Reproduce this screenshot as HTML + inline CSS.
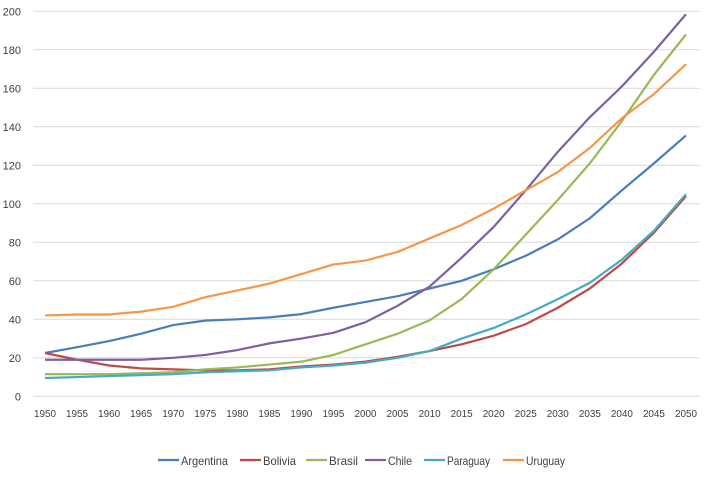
<!DOCTYPE html>
<html><head><meta charset="utf-8"><style>
body{margin:0;background:#fff;font-family:"Liberation Sans",sans-serif}
svg text{font-family:"Liberation Sans",sans-serif;fill:#404040}
</style></head><body>
<svg id="chart" width="709" height="472"></svg>
<script>
const years=[1950,1955,1960,1965,1970,1975,1980,1985,1990,1995,2000,2005,2010,2015,2020,2025,2030,2035,2040,2045,2050];
const yTicks=[0,20,40,60,80,100,120,140,160,180,200];
const argentina=[22.5,25.5,28.7,32.5,37,39.3,40,41,42.7,46,49,52,56,60,66,73,81.5,92.5,107,121,135.5];
const bolivia=[22.5,19,16,14.5,14,13.5,13.5,14,15.5,16.5,18,20.5,23.5,27,31.5,37.5,46,56,69,85,104];
const brasil=[11.5,11.5,11.5,12,12.5,14,15,16.5,18,21.5,27,32.5,39.5,50.5,66,84,102,121,143,167,188];
const chile=[19,19,19,19,20,21.5,24,27.5,30,33,38.5,47,57,72,88,107,127,145,161,179,198.5];
const paraguay=[9.5,10,10.5,11,11.5,12.5,13,13.5,15,16,17.5,20,23.5,30,35.5,42.5,50.5,59,71,86,105];
const uruguay=[42,42.5,42.5,44,46.5,51.5,55,58.5,63.5,68.5,70.5,75,82,89,97.5,107,116.5,129,144.5,157,172.5];
const seriesNames=["Argentina","Bolivia","Brasil","Chile","Paraguay","Uruguay"];
const seriesData=[argentina,bolivia,brasil,chile,paraguay,uruguay];
const colors=["#4a7ebb","#be4b48","#98b954","#7d60a0","#46aac5","#f79646"];
const NS="http://www.w3.org/2000/svg",svg=document.getElementById('chart');
const x0=45,x1=686,y0=396.3,y1=11.3;
const xs=i=>x0+(x1-x0)*i/(years.length-1);
const ys=v=>y0-(y0-y1)*v/200;
function mk(t,a){const e=document.createElementNS(NS,t);for(const k in a)e.setAttribute(k,a[k]);svg.appendChild(e);return e;}
yTicks.forEach(v=>{
 const l=mk('line',{x1:33,x2:700,y1:ys(v),y2:ys(v),stroke:'#d9d9d9','stroke-width':1});
 
 
 const t=mk('text',{x:21,y:ys(v)+4,'text-anchor':'end','font-size':11});
 t.textContent=v;
 
 
});
years.forEach((yr,i)=>{
 const t=mk('text',{x:xs(i),y:417,'text-anchor':'middle','font-size':10,textLength:22,lengthAdjust:'spacingAndGlyphs'});
 t.textContent=yr;
 
 
});
seriesData.forEach((d,s)=>{
 const p=mk('polyline',{points:d.map((v,i)=>xs(i)+','+ys(v)).join(' '),fill:'none',stroke:colors[s],'stroke-width':2.2,'stroke-linejoin':'round'});
 
 
});
const legX=[158,240,306,365,424,503];
const legW=[47,33,29,24,43,39];
seriesNames.forEach((n,s)=>{
 const l=mk('line',{x1:legX[s],x2:legX[s]+21,y1:460,y2:460,stroke:colors[s],'stroke-width':2.2});
 
 
 const t=mk('text',{x:legX[s]+23,y:465,'font-size':12,textLength:legW[s],lengthAdjust:'spacingAndGlyphs'});
 t.textContent=n;
 
 
});
</script>
</body></html>
